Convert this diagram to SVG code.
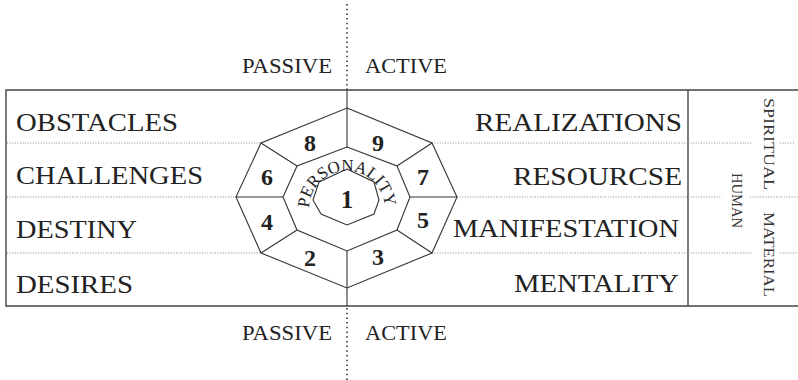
<svg xmlns="http://www.w3.org/2000/svg" width="798" height="380" viewBox="0 0 798 380">
<defs>
<style>
.bg{fill:#fff}
.frame{fill:none;stroke:#444;stroke-width:1.4}
.line{fill:none;stroke:#333;stroke-width:1.1;stroke-linejoin:miter}
.dot{fill:none;stroke:#888;stroke-width:1;stroke-dasharray:1 1.6}
.vdot{fill:none;stroke:#333;stroke-width:1.6;stroke-dasharray:1.5 3.2}
.lbl{font-family:"Liberation Serif","Times New Roman",serif;font-size:26px;fill:#222}
.pa{font-family:"Liberation Serif","Times New Roman",serif;font-size:22px;fill:#222}
.vt{font-family:"Liberation Serif","Times New Roman",serif;font-size:15px;fill:#333}
.num{font-family:"Liberation Serif","Times New Roman",serif;font-size:24px;font-weight:bold;fill:#222;text-anchor:middle}
.arc{font-family:"Liberation Serif","Times New Roman",serif;font-size:17px;fill:#222}
</style>
<path id="persArc" d="M 309 209 A 38 38 0 0 1 385 209"/>
</defs>
<rect class="bg" x="0" y="0" width="798" height="380"/>

<g id="connectors">
<path class="frame" d="M 798 90 H 6 V 306 H 798"/>
<path class="frame" d="M 688 90 V 306"/>
<path class="vdot" d="M 347 4 V 90"/>
<path class="vdot" d="M 347 308 V 380"/>
<path class="line" d="M 347 90 V 108 M 347 288 V 306"/>
<path class="dot" d="M 7 143 H 261 M 7 197 H 236 M 7 253 H 261"/>
<path class="dot" d="M 432 143 H 688 M 457 197 H 688 M 432 253 H 688"/>
<path class="dot" d="M 688 143 H 753 M 780 143 H 795 M 688 197 H 722 M 750 197 H 798 M 688 253 H 753 M 780 253 H 798"/>
</g>

<g id="octagon">
<polygon class="line" points="347,108 432,143 457,197 432,253 347,288 261,253 236,197 261,143"/>
<polygon class="line" points="347,147 397,166 410,197 397,230 347,251 297,230 283,197 297,166"/>
<polygon class="line" points="347,169 374,182 379,200 374,214 347,225 321,214 313,200 319,182"/>
<path class="line" d="M 347 108 V 147 M 347 251 V 288 M 261 143 L 297 166 M 236 197 H 283 M 261 253 L 297 230 M 432 143 L 397 166 M 457 197 H 410 M 432 253 L 397 230"/>
</g>

<g id="numbers">
<text class="num" x="310" y="151">8</text>
<text class="num" x="378" y="151">9</text>
<text class="num" x="267" y="185">6</text>
<text class="num" x="423" y="185">7</text>
<text class="num" x="267" y="230">4</text>
<text class="num" x="423" y="228">5</text>
<text class="num" x="310" y="266">2</text>
<text class="num" x="378" y="265">3</text>
<text class="num" x="347" y="208" style="font-size:25px">1</text>
</g>

<g id="personality">
<text class="arc"><textPath href="#persArc" startOffset="1" textLength="116" lengthAdjust="spacing">PERSONALITY</textPath></text>
</g>

<g id="left-labels">
<text class="lbl" x="16" y="131" textLength="162" lengthAdjust="spacingAndGlyphs">OBSTACLES</text>
<text class="lbl" x="16" y="184" textLength="187" lengthAdjust="spacingAndGlyphs">CHALLENGES</text>
<text class="lbl" x="16" y="238" textLength="121" lengthAdjust="spacingAndGlyphs">DESTINY</text>
<text class="lbl" x="16" y="293" textLength="117" lengthAdjust="spacingAndGlyphs">DESIRES</text>
</g>

<g id="right-labels">
<text class="lbl" x="475" y="131" textLength="207" lengthAdjust="spacingAndGlyphs">REALIZATIONS</text>
<text class="lbl" x="513" y="185" textLength="169" lengthAdjust="spacingAndGlyphs">RESOURCSE</text>
<text class="lbl" x="453" y="237" textLength="226" lengthAdjust="spacingAndGlyphs">MANIFESTATION</text>
<text class="lbl" x="514" y="292" textLength="165" lengthAdjust="spacingAndGlyphs">MENTALITY</text>
</g>

<g id="side-labels">
<text class="vt" transform="translate(764,98) rotate(90)" textLength="92" lengthAdjust="spacingAndGlyphs">SPIRITUAL</text>
<text class="vt" transform="translate(732,173) rotate(90)" textLength="55" lengthAdjust="spacingAndGlyphs">HUMAN</text>
<text class="vt" transform="translate(764,212) rotate(90)" textLength="85" lengthAdjust="spacingAndGlyphs">MATERIAL</text>
</g>

<g id="axis-labels">
<text class="pa" x="242" y="73" textLength="90" lengthAdjust="spacingAndGlyphs">PASSIVE</text>
<text class="pa" x="365" y="73" textLength="82" lengthAdjust="spacingAndGlyphs">ACTIVE</text>
<text class="pa" x="242" y="340" textLength="90" lengthAdjust="spacingAndGlyphs">PASSIVE</text>
<text class="pa" x="365" y="340" textLength="82" lengthAdjust="spacingAndGlyphs">ACTIVE</text>
</g>
</svg>
